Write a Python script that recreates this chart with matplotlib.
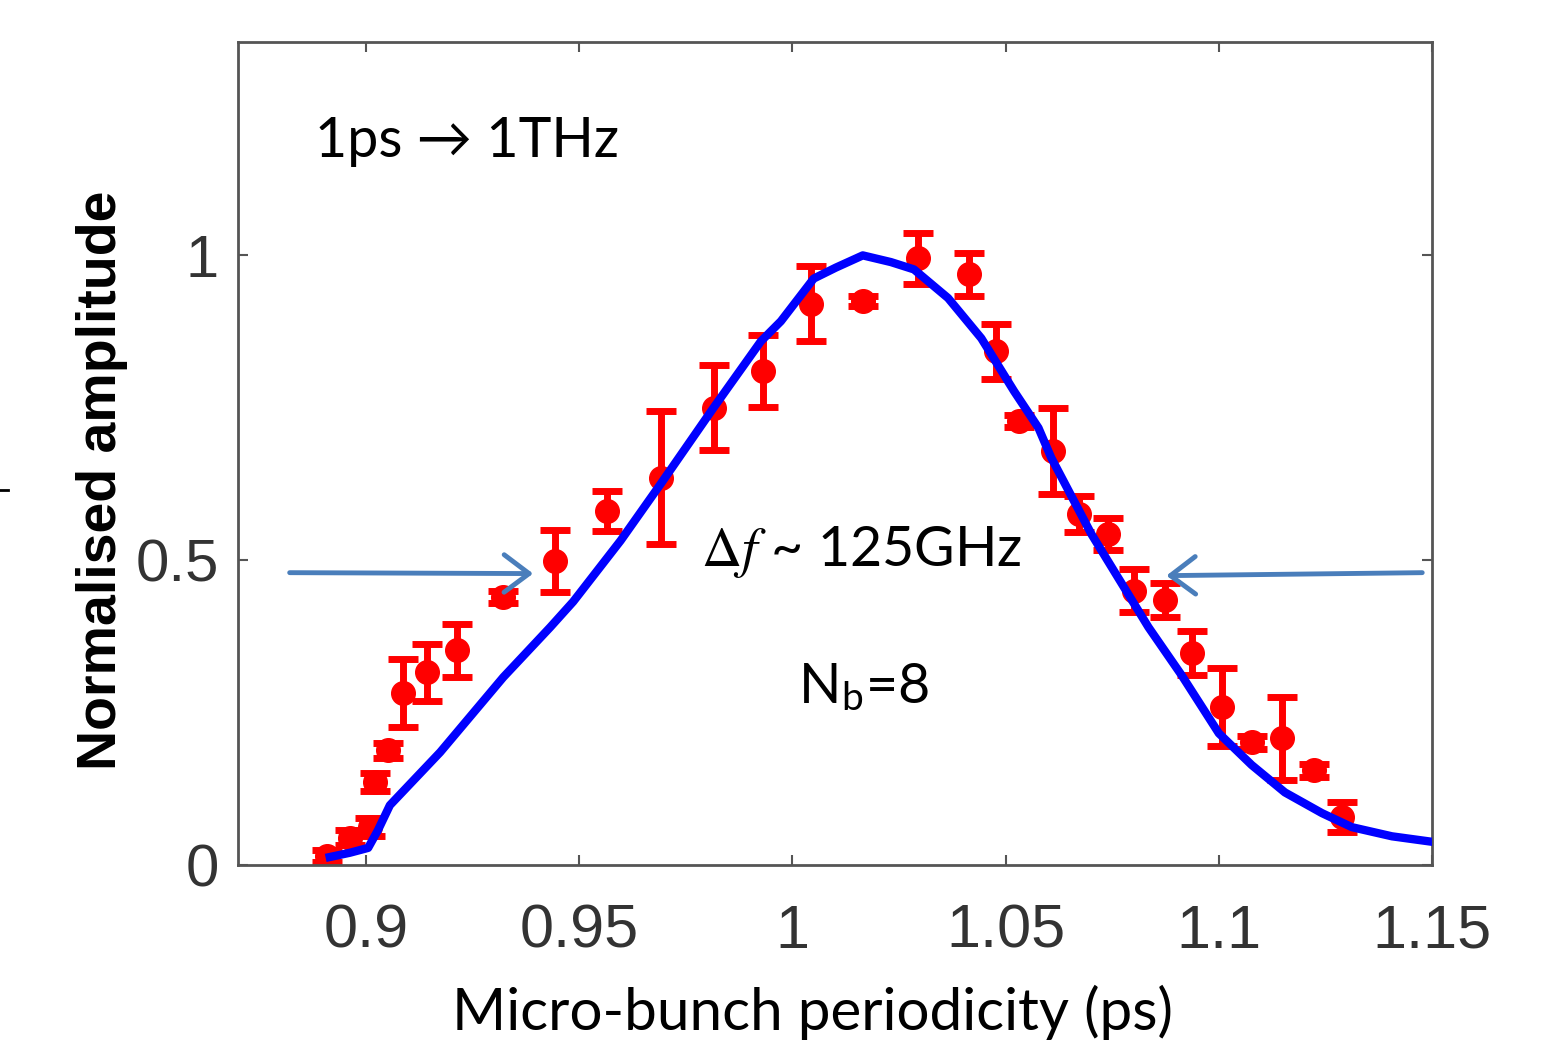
import matplotlib
matplotlib.use("Agg")
import matplotlib.pyplot as plt
from matplotlib.lines import Line2D

# measured points (periodicity in ps, normalised amplitude, error)
period = [0.8908, 0.8962, 0.9009, 0.9021, 0.9052, 0.9087, 0.9143, 0.9214, 0.9322,
          0.9444, 0.9566, 0.9691, 0.9815, 0.9930, 1.0043, 1.0165, 1.0295, 1.0414,
          1.0478, 1.0532, 1.0612, 1.0671, 1.0741, 1.0802, 1.0873, 1.0936, 1.1007,
          1.1077, 1.1148, 1.1223, 1.1289]
amp = [0.015, 0.045, 0.062, 0.136, 0.188, 0.282, 0.316, 0.352, 0.439,
       0.499, 0.581, 0.635, 0.750, 0.810, 0.921, 0.925, 0.995, 0.969,
       0.843, 0.728, 0.679, 0.576, 0.543, 0.450, 0.434, 0.347, 0.259,
       0.201, 0.208, 0.155, 0.079]
err = [0.010, 0.012, 0.015, 0.015, 0.012, 0.056, 0.047, 0.043, 0.010,
       0.051, 0.033, 0.109, 0.070, 0.059, 0.062, 0.008, 0.042, 0.035,
       0.045, 0.010, 0.071, 0.030, 0.027, 0.035, 0.028, 0.036, 0.064,
       0.010, 0.068, 0.010, 0.025]

# simulated curve
fit_period = [0.8915, 0.8962, 0.9005, 0.9028, 0.9056, 0.9174, 0.9322, 0.9432, 0.9486,
              0.9597, 0.9691, 0.9815, 0.9926, 0.9973, 1.0050, 1.0102, 1.0165, 1.0231,
              1.0285, 1.0365, 1.0443, 1.0520, 1.0577, 1.0607, 1.0701, 1.0835, 1.0913,
              1.1000, 1.1077, 1.1155, 1.1242, 1.1312, 1.1406, 1.1500]
fit_amp = [0.013, 0.020, 0.028, 0.057, 0.098, 0.185, 0.308, 0.390, 0.432,
           0.532, 0.625, 0.750, 0.859, 0.892, 0.962, 0.980, 1.000, 0.989,
           0.977, 0.930, 0.864, 0.777, 0.717, 0.668, 0.543, 0.390, 0.311,
           0.216, 0.164, 0.119, 0.085, 0.062, 0.047, 0.038]

xticks = [0.9, 0.95, 1, 1.05, 1.1, 1.15]
xticklabels = ['0.9', '0.95', '1', '1.05', '1.1', '1.15']
yticks = [0, 0.5, 1]
yticklabels = ['0', '0.5', '1']

plt.rcParams['mathtext.fontset'] = 'stix'
text_font = ['Lato', 'DejaVu Sans']
tick_font = 'Liberation Sans'

fig = plt.figure(figsize=(15.51, 10.43), dpi=100)
ax = fig.add_axes([0.1535, 0.1707, 0.7698, 0.789])

ax.errorbar(period, amp, yerr=err, fmt='o', color='red', ms=17,
            elinewidth=5, capsize=11, capthick=5, zorder=2)
ax.plot(fit_period, fit_amp, color='blue', lw=6, zorder=3,
        solid_joinstyle='round')

ax.set_xlim(0.87, 1.15)
ax.set_ylim(0, 1.35)
ax.set_xticks(xticks)
ax.set_xticklabels(xticklabels, family=tick_font, fontsize=44, color='#333333')
ax.set_yticks(yticks)
ax.set_yticklabels(yticklabels, family=tick_font, fontsize=43, color='#333333')
ax.tick_params(direction='in', length=7, width=1.5, color='#555555',
               top=True, right=True)
ax.tick_params(axis='x', pad=28)
ax.tick_params(axis='y', pad=14)
for s in ax.spines.values():
    s.set_color('#555555')
    s.set_linewidth(2)

ax.set_ylabel('Normalised amplitude', family=tick_font, fontweight='bold',
              fontsize=40, color='black')
ax.yaxis.set_label_coords(-0.092, 0.468)
fig.text(812 / 1551, 0.012, 'Micro-bunch periodicity (ps)', family=text_font,
         fontsize=42, ha='center', va='baseline')

# annotations
ax.text(0.888, 1.161, '1ps \u2192 1THz', family=text_font, fontsize=40, va='baseline')
ax.text(0.9785, 0.491, r'$\Delta f$' + ' ~ 125GHz', family=text_font,
        fontsize=40, va='baseline')
ax.text(1.0013, 0.265, r'N$_{\mathregular{b}}$=8', family=text_font,
        fontsize=40, va='baseline')

arrow_kw = dict(arrowstyle='->,head_length=0.6,head_width=0.45', color='#4a7ebb',
                lw=3.5, mutation_scale=30, shrinkA=0, shrinkB=0)
ax.annotate('', xy=(0.9392, 0.478), xytext=(0.8821, 0.4795), arrowprops=arrow_kw)
ax.annotate('', xy=(1.0877, 0.4746), xytext=(1.1477, 0.4795), arrowprops=arrow_kw,
            annotation_clip=False)

fig.add_artist(Line2D([0, 8 / 1551], [0.530, 0.530], color='black', lw=2))

fig.savefig('out.png', dpi=100)
